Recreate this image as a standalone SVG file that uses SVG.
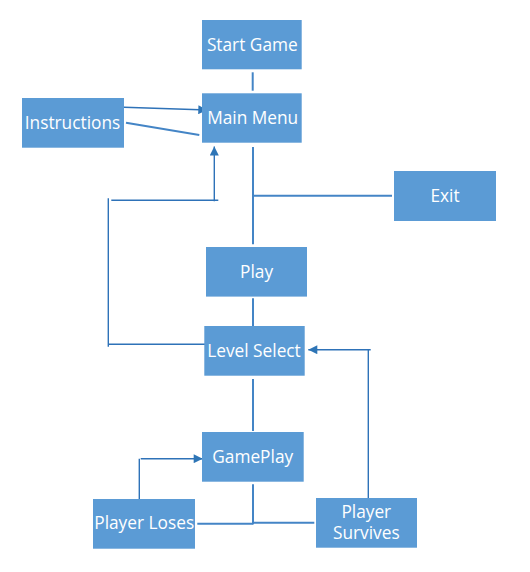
<svg xmlns="http://www.w3.org/2000/svg" width="530" height="572" viewBox="0 0 530 572">
<style>
.box{fill:#5B9BD5}
.t{fill:#fff;font-family:"Open Sans","Liberation Sans",sans-serif;font-size:17.3px;text-anchor:middle}
.c{stroke:#4485C6;stroke-width:2;fill:none}
.th{stroke:#2E72B8;stroke-width:1.4;fill:none}
</style>
<defs>
<marker id="ar" viewBox="0 0 10 10" refX="10" refY="5" markerWidth="10" markerHeight="9" markerUnits="userSpaceOnUse" orient="auto">
<path d="M0,0 L10,5 L0,10 z" fill="#2E75B6"/>
</marker>
</defs>
<rect width="530" height="572" fill="#fff"/>
<g id="connectors">
<line class="c" x1="252.7" y1="72.3" x2="252.7" y2="90.7"/>
<line class="th" x1="124" y1="107.3" x2="207.3" y2="110" marker-end="url(#ar)"/>
<line class="c" x1="126" y1="122.7" x2="199.3" y2="135"/>
<line class="th" x1="111.3" y1="200.3" x2="218.3" y2="200.3"/>
<line class="th" x1="214.3" y1="201.3" x2="214.3" y2="146.4" marker-end="url(#ar)"/>
<line class="th" x1="108.3" y1="198.3" x2="108.3" y2="346.7"/>
<line class="th" x1="108.3" y1="344.3" x2="205" y2="344.3"/>
<line class="c" x1="253" y1="147" x2="253" y2="244.2"/>
<line class="c" x1="253" y1="195.7" x2="392" y2="195.7"/>
<line class="c" x1="253" y1="298.3" x2="253" y2="326"/>
<line class="c" x1="253" y1="379" x2="253" y2="430.9"/>
<line class="th" x1="368.3" y1="498" x2="368.3" y2="349.7"/>
<line class="th" x1="370.7" y1="349.7" x2="308.3" y2="349.7" marker-end="url(#ar)"/>
<line class="th" x1="139.3" y1="499" x2="139.3" y2="458.7"/>
<line class="th" x1="140.7" y1="458.7" x2="202.7" y2="458.7" marker-end="url(#ar)"/>
<line class="c" x1="253" y1="484.3" x2="253" y2="524.3"/>
<line class="c" x1="197.3" y1="523.7" x2="253.3" y2="523.7"/>
<line class="c" x1="253" y1="522.7" x2="314.3" y2="522.7"/>
</g>
<g id="start-game"><rect class="box" x="202" y="20" width="99.7" height="49.3"/><text class="t" x="252.3" y="51">Start Game</text></g>
<g id="main-menu"><rect class="box" x="202" y="93.3" width="99.7" height="49.4"/><text class="t" x="252.7" y="123.5">Main Menu</text></g>
<g id="instructions"><rect class="box" x="22" y="98" width="102" height="49.7"/><text class="t" x="72.5" y="129">Instructions</text></g>
<g id="exit"><rect class="box" x="394" y="171" width="102" height="50"/><text class="t" x="445" y="201.7">Exit</text></g>
<g id="play"><rect class="box" x="206" y="247" width="101" height="49.6"/><text class="t" x="256.6" y="278">Play</text></g>
<g id="level-select"><rect class="box" x="204.3" y="326" width="100.4" height="49.7"/><text class="t" x="254" y="356.7">Level Select</text></g>
<g id="gameplay"><rect class="box" x="202" y="432" width="101.7" height="49.7"/><text class="t" x="252.7" y="463.3">GamePlay</text></g>
<g id="player-loses"><rect class="box" x="93" y="499" width="102" height="49.7"/><text class="t" x="144.2" y="529.3">Player Loses</text></g>
<g id="player-survives"><rect class="box" x="316" y="498" width="101" height="49.7"/><text class="t" x="366.3" y="517.7">Player</text><text class="t" x="366.3" y="539">Survives</text></g>
</svg>
